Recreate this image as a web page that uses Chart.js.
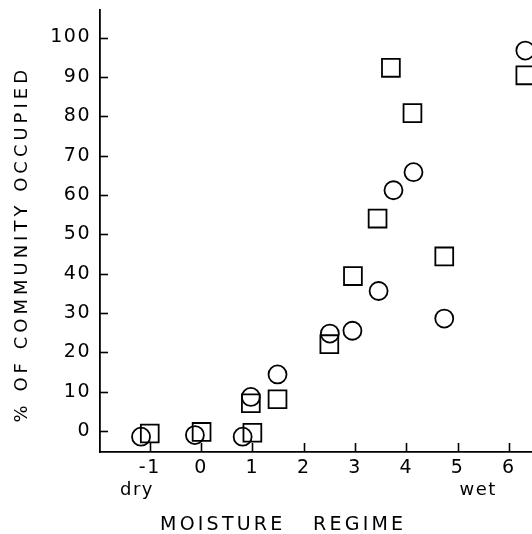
<!DOCTYPE html>
<html>
<head>
<meta charset="utf-8">
<script src="https://cdn.jsdelivr.net/npm/chart.js@4"></script>
<style>
  html, body { margin: 0; padding: 0; background: #fff; overflow: hidden; }
  #wrap { width: 532px; height: 534px; position: relative; }
</style>
</head>
<body>
<div id="wrap"><canvas id="c"></canvas></div>
<script>
// Data
const circleX = [-1.17, -0.12, 0.81, 0.97, 1.49, 2.51, 2.95, 3.46, 3.75, 4.14, 4.74, 6.32];
const circleY = [-1.4, -1.0, -1.4, 8.7, 14.4, 24.8, 25.5, 35.6, 61.2, 65.8, 28.6, 96.7];
const squareX = [-1.0, 0.01, 1.0, 0.97, 1.49, 2.50, 2.96, 3.44, 3.70, 4.12, 4.74, 6.32];
const squareY = [-0.6, -0.2, -0.4, 7.1, 8.1, 22.1, 39.4, 54.0, 92.3, 80.8, 44.4, 90.4];
const xTickValues = [-1, 0, 1, 2, 3, 4, 5, 6];
const yTickValues = [0, 10, 20, 30, 40, 50, 60, 70, 80, 90, 100];
const xTitle = 'MOISTURE   REGIME';
const yTitle = '% OF COMMUNITY OCCUPIED';
const dryLabel = 'dry';
const wetLabel = 'wet';

const FONT = 'DejaVu Sans';

const toPts = (xs, ys) => xs.map((x, i) => ({ x: x, y: ys[i] }));

const spacing = {
  id: 'spacing',
  beforeDraw(chart) { chart.ctx.letterSpacing = '1.5px'; }
};

const annotations = {
  id: 'annotations',
  afterDraw(chart) {
    const ctx = chart.ctx;
    const xs = chart.scales.x, ys = chart.scales.y;
    const a = chart.chartArea;
    ctx.save();
    ctx.strokeStyle = '#000';
    ctx.lineWidth = 1.6;
    // inward tick marks
    xTickValues.forEach(v => {
      const px = Math.round(xs.getPixelForValue(v)) + 0.5;
      ctx.beginPath();
      ctx.moveTo(px, a.bottom);
      ctx.lineTo(px, a.bottom - 9);
      ctx.stroke();
    });
    yTickValues.forEach(v => {
      const py = Math.round(ys.getPixelForValue(v)) + 0.5;
      ctx.beginPath();
      ctx.moveTo(a.left, py);
      ctx.lineTo(a.left + 8, py);
      ctx.stroke();
    });
    ctx.fillStyle = '#000';
    ctx.textBaseline = 'middle';
    ctx.textAlign = 'center';
    // dry / wet
    ctx.font = '18px "' + FONT + '"';
    ctx.letterSpacing = '1.5px';
    ctx.fillText(dryLabel, xs.getPixelForValue(-1.25), a.bottom + 38);
    ctx.fillText(wetLabel, xs.getPixelForValue(5.4), a.bottom + 38);
    // x title
    ctx.font = '19px "' + FONT + '"';
    ctx.letterSpacing = '3.2px';
    ctx.fillText(xTitle, xs.getPixelForValue(1.6), a.bottom + 73);
    // y title
    ctx.translate(22, ys.getPixelForValue(47.5));
    ctx.rotate(-Math.PI / 2);
    ctx.font = '18px "' + FONT + '"';
    ctx.letterSpacing = '4px';
    ctx.fillText(yTitle, 0, 0);
    ctx.restore();
  }
};

function zeroPad(s) {
  s.paddingTop = 0; s.paddingBottom = 0; s.paddingLeft = 0; s.paddingRight = 0;
}

new Chart(document.getElementById('c'), {
  type: 'scatter',
  data: {
    datasets: [
      {
        label: 'circles',
        data: toPts(circleX, circleY),
        pointStyle: 'circle',
        pointRadius: 9,
        pointHoverRadius: 9,
        borderColor: '#000',
        backgroundColor: 'rgba(0,0,0,0)',
        borderWidth: 1.8,
        clip: false
      },
      {
        label: 'squares',
        data: toPts(squareX, squareY),
        pointStyle: 'rect',
        pointRadius: 12.6,
        pointHoverRadius: 12.6,
        borderColor: '#000',
        backgroundColor: 'rgba(0,0,0,0)',
        borderWidth: 1.8,
        clip: false
      }
    ]
  },
  options: {
    responsive: true,
    maintainAspectRatio: false,
    animation: false,
    events: [],
    layout: { autoPadding: false, padding: { top: 10, right: 0, left: 0, bottom: 0 } },
    plugins: { legend: { display: false }, tooltip: { enabled: false } },
    scales: {
      x: {
        type: 'linear',
        min: -1.97,
        max: 6.45,
        afterBuildTicks: s => { s.ticks = xTickValues.map(v => ({ value: v })); },
        afterFit: s => { s.height = 82; zeroPad(s); },
        grid: { display: true, drawOnChartArea: false, drawTicks: false },
        border: { display: true, color: '#000', width: 1.8 },
        ticks: {
          color: '#000',
          padding: 5,
          maxRotation: 0,
          font: { family: FONT, size: 19 },
          callback: v => String(v)
        }
      },
      y: {
        type: 'linear',
        min: -5.3,
        max: 107,
        afterBuildTicks: s => { s.ticks = yTickValues.map(v => ({ value: v })); },
        afterFit: s => { s.width = 100; zeroPad(s); },
        grid: { display: true, drawOnChartArea: false, drawTicks: false },
        border: { display: true, color: '#000', width: 1.8 },
        ticks: {
          color: '#000',
          padding: 9,
          font: { family: FONT, size: 19 },
          callback: v => String(v)
        }
      }
    }
  },
  plugins: [spacing, annotations]
});
</script>
</body>
</html>
